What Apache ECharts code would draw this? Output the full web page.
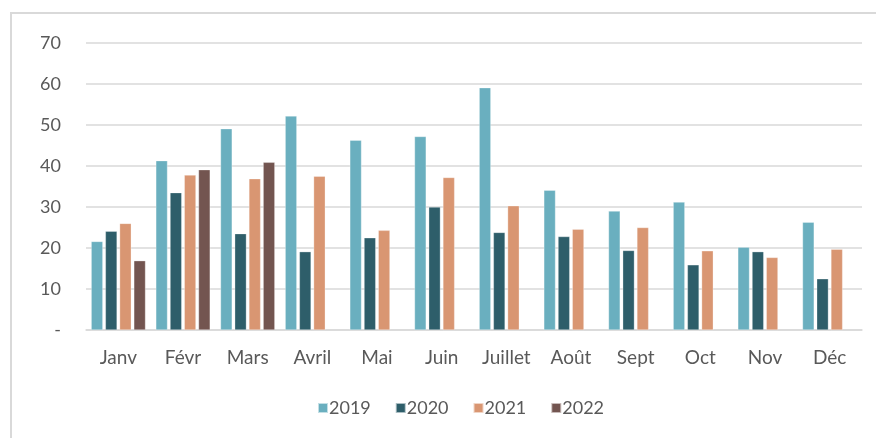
<!DOCTYPE html>
<html><head><meta charset="utf-8">
<script src="https://cdn.jsdelivr.net/npm/echarts@6/dist/echarts.min.js"></script>
<style>
html,body{margin:0;padding:0;background:#fff;}
#frame{position:absolute;left:10px;top:12px;width:900px;height:460px;border-left:2px solid #d9d9d9;border-top:2px solid #d9d9d9;}
#c{position:absolute;left:0;top:0;width:876px;height:438px;}
</style></head>
<body>
<div id="frame"></div>
<div id="c"></div>
<script>
const categories = ['Janv','Févr','Mars','Avril','Mai','Juin','Juillet','Août','Sept','Oct','Nov','Déc'];
const seriesNames = ['2019','2020','2021','2022'];
const v2019 = [21.6,41.3,49.1,52.2,46.3,47.2,59.1,34.1,29.0,31.2,20.2,26.3];
const v2020 = [24.1,33.5,23.5,19.1,22.5,30.0,23.8,22.8,19.4,15.9,19.1,12.5];
const v2021 = [26.0,37.8,36.9,37.5,24.3,37.2,30.3,24.6,25.0,19.3,17.7,19.7];
const v2022 = [16.9,39.1,40.9,null,null,null,null,null,null,null,null,null];
const colors = ['#6aafbf','#2e5e6a','#d99672','#735550'];
const values = [v2019,v2020,v2021,v2022];

const chart = echarts.init(document.getElementById('c'), null, {renderer:'canvas'});
chart.setOption({
  animation:false,
  backgroundColor:'transparent',
  textStyle:{fontFamily:'Lato'},
  grid:{left:86,right:14,top:43,bottom:108,containLabel:false},
  legend:{
    data:seriesNames, left:317, top:399, padding:0, itemWidth:10, itemHeight:10, itemGap:24,
    icon:'rect',
    textStyle:{color:'#595959',fontSize:18,fontFamily:'Lato',padding:[0,0,0,-4]}
  },
  xAxis:{
    type:'category', data:categories,
    axisLine:{show:true,lineStyle:{color:'#d9d9d9',width:1.5}},
    axisTick:{show:false},
    axisLabel:{color:'#595959',fontSize:19,margin:18,fontFamily:'Lato'}
  },
  yAxis:{
    type:'value', min:0, max:70, interval:10,
    axisLine:{show:false}, axisTick:{show:false},
    splitLine:{lineStyle:{color:'#d9d9d9',width:1.5}},
    axisLabel:{color:'#595959',fontSize:18,margin:25,fontFamily:'Lato',
      formatter:function(v){return v===0?'-':String(v);}}
  },
  series: seriesNames.map((n,i)=>({
    name:n, type:'bar', data:values[i],
    barGap:'22%', barCategoryGap:'16%',
    itemStyle:{color:colors[i],borderColor:'rgba(255,255,255,0.6)',borderWidth:0.5}
  }))
});
</script>
</body></html>
